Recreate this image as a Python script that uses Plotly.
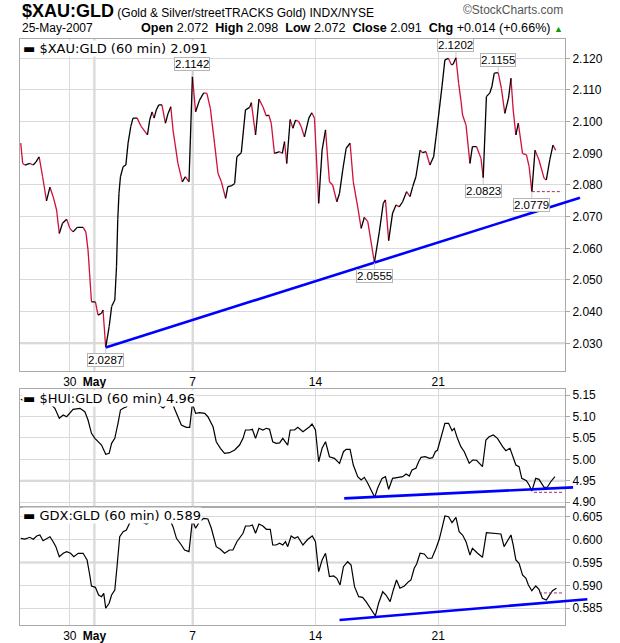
import plotly.graph_objects as go

# ---------------- data (x = trading-day position, Apr 26 open = 0) ----------------
XAU_X = [0.00,0.08,0.17,0.37,0.51,0.62,0.75,0.89,1.05,1.19,1.32,1.46,1.57,1.70,1.87,2.00,2.13,2.30,2.54,2.65,
         2.74,2.88,3.04,3.15,3.29,3.35,3.46,3.60,3.70,3.83,3.90,3.95,4.00,4.06,4.17,4.28,4.37,4.48,4.57,4.74,
         4.91,5.16,5.25,5.35,5.43,5.52,5.62,5.75,5.89,6.00,6.11,6.20,6.40,6.58,6.70,6.85,6.99,7.12,7.28,7.45,
         7.58,7.72,7.89,8.03,8.17,8.34,8.43,8.57,8.71,8.80,8.98,9.07,9.15,9.32,9.39,9.56,9.70,9.86,10.00,10.10,
         10.20,10.33,10.54,10.65,10.74,10.83,10.97,11.08,11.19,11.32,11.42,11.55,11.73,11.85,11.96,12.13,12.27,
         12.41,12.57,12.70,12.87,12.98,13.11,13.25,13.41,13.54,13.72,13.86,13.99,14.13,14.40,14.60,14.76,14.85,
         14.98,15.14,15.28,15.41,15.55,15.71,15.85,15.96,16.09,16.26,16.36,16.50,16.66,16.81,16.91,17.04,17.15,
         17.27,17.41,17.54,17.61,17.72,17.83,17.92,17.99,18.13,18.29,18.39,18.56,18.74,18.83,18.96,19.10,19.18,
         19.28,19.44,19.57,19.71,19.86,19.96,20.05,20.16,20.26,20.43,20.59,20.70,20.81,20.94,21.10,21.31,21.40,
         21.54,21.67,21.78]
XAU_Y = [2.0932,2.0868,2.0863,2.0868,2.0863,2.0873,2.0889,2.0826,2.0750,2.0793,2.0763,2.0721,2.0647,2.0679,
         2.0692,2.0663,2.0652,2.0666,2.0666,2.0652,2.0595,2.0431,2.0431,2.0389,2.0395,2.0405,2.0287,2.0353,
         2.0416,2.0437,2.0542,2.0690,2.0774,2.0826,2.0858,2.0863,2.0932,2.0984,2.1011,2.1011,2.0984,2.0958,
         2.1005,2.1031,2.1011,2.1037,2.1053,2.1053,2.0995,2.1026,2.1047,2.0974,2.0868,2.0810,2.0826,2.0810,
         2.1142,2.1031,2.1068,2.1091,2.1089,2.1042,2.0932,2.0837,2.0810,2.0758,2.0795,2.0797,2.0805,2.0889,
         2.0902,2.0974,2.1037,2.1045,2.1060,2.0958,2.1071,2.1047,2.1018,2.1021,2.0995,2.0900,2.0905,2.0900,
         2.0937,2.0868,2.1007,2.0979,2.1005,2.1000,2.0984,2.0952,2.1011,2.1028,2.1011,2.0742,2.0910,2.0974,
         2.0810,2.0800,2.0747,2.0774,2.0847,2.0916,2.0932,2.0810,2.0731,2.0663,2.0698,2.0684,2.0555,2.0652,
         2.0742,2.0753,2.0624,2.0711,2.0737,2.0731,2.0747,2.0779,2.0763,2.0795,2.0826,2.0910,2.0902,2.0905,
         2.0863,2.0889,2.0952,2.1037,2.1110,2.1195,2.1200,2.1179,2.1182,2.1202,2.1121,2.1068,2.1021,2.0989,
         2.0868,2.0921,2.0921,2.0884,2.0823,2.1079,2.1091,2.1110,2.1153,2.1155,2.1105,2.1026,2.1074,2.1137,
         2.1037,2.0958,2.0995,2.0900,2.0895,2.0858,2.0779,2.0910,2.0879,2.0821,2.0816,2.0879,2.0926,2.0910]

HUI_X = [0.00,0.21,0.46,0.70,0.94,1.11,1.26,1.39,1.57,1.73,1.87,2.00,2.13,2.41,2.61,2.74,2.88,3.02,3.15,3.29,
         3.46,3.60,3.70,3.83,3.96,4.06,4.17,4.31,4.44,4.85,5.18,5.52,5.80,5.93,6.13,6.20,6.34,6.54,6.74,6.88,
         6.99,7.12,7.28,7.49,7.62,7.83,7.96,8.13,8.30,8.50,8.71,8.91,9.05,9.15,9.32,9.43,9.56,9.70,9.86,10.00,
         10.13,10.26,10.40,10.54,10.67,10.78,10.87,10.97,11.15,11.28,11.49,11.76,11.86,12.00,12.13,12.27,12.41,
         12.57,12.77,12.98,13.14,13.25,13.41,13.54,13.72,13.86,13.99,14.13,14.31,14.41,14.53,14.71,14.85,14.98,
         15.14,15.34,15.55,15.69,15.82,15.93,16.09,16.20,16.30,16.47,16.64,16.77,16.88,16.97,17.11,17.27,17.42,
         17.56,17.65,17.78,17.92,18.06,18.26,18.40,18.56,18.67,18.80,18.94,19.07,19.24,19.41,19.62,19.75,19.92,
         20.05,20.16,20.29,20.40,20.59,20.70,20.81,20.97,21.10,21.31,21.44,21.58,21.75]
HUI_Y = [5.140,5.135,5.138,5.141,5.132,5.134,5.1267,5.119,5.0957,5.1034,5.0994,5.1073,5.1167,5.119,5.111,
         5.0917,5.0607,5.049,5.0411,5.0334,5.0118,5.0141,5.0374,5.049,5.084,5.115,5.119,5.1227,5.1344,5.138,
         5.127,5.131,5.120,5.127,5.131,5.1267,5.1073,5.080,5.0747,5.0747,5.1306,5.1073,5.1087,5.1073,5.0994,
         5.076,5.0411,5.0258,5.0141,5.0155,5.0218,5.0334,5.049,5.0684,5.0684,5.070,5.049,5.0724,5.0684,5.0724,
         5.070,5.0411,5.0374,5.0385,5.049,5.0411,5.0334,5.0684,5.0684,5.0747,5.0645,5.076,5.0824,5.0684,4.9945,
         5.0258,5.0411,5.0062,5.0024,4.9908,5.0179,5.0234,5.0234,4.9868,4.9596,4.9519,4.9582,4.9442,4.9246,
         4.9115,4.9325,4.9558,4.9596,4.9302,4.9558,4.9582,4.9596,4.9659,4.9612,4.9752,4.9792,4.9945,5.0048,
         5.0062,5.0024,5.0040,5.0179,5.0218,5.049,5.084,5.084,5.0668,5.0724,5.049,5.0296,5.0179,4.9908,4.9985,
         4.998,4.9908,4.9829,5.0451,5.0528,5.0568,5.049,5.0296,5.0202,5.0258,5.0024,4.9868,4.9829,4.9558,4.9502,
         4.9402,4.9262,4.9558,4.9535,4.9349,4.9350,4.9479,4.9596]

GDX_X = [0.00,0.17,0.37,0.51,0.65,0.78,0.91,1.05,1.19,1.32,1.43,1.57,1.73,1.87,2.03,2.16,2.34,2.54,2.70,2.81,
         2.88,3.04,3.17,3.29,3.38,3.46,3.60,3.70,3.83,3.92,4.03,4.17,4.30,4.45,4.75,5.12,5.45,5.80,6.05,6.20,
         6.34,6.54,6.67,6.85,6.99,7.12,7.28,7.45,7.62,7.76,7.96,8.13,8.30,8.50,8.64,8.80,8.91,9.05,9.15,9.32,
         9.43,9.56,9.70,9.86,10.00,10.16,10.26,10.40,10.54,10.67,10.78,10.87,11.01,11.15,11.28,11.49,11.69,11.87,
         12.00,12.13,12.27,12.41,12.57,12.74,12.87,13.00,13.14,13.31,13.45,13.59,13.76,13.92,14.06,14.26,14.44,
         14.57,14.74,14.87,15.04,15.17,15.30,15.44,15.62,15.79,15.89,16.02,16.12,16.26,16.43,16.57,16.74,16.91,
         17.04,17.15,17.27,17.42,17.56,17.72,17.85,17.99,18.13,18.29,18.39,18.60,18.80,18.96,19.14,19.35,19.55,
         19.68,19.82,19.96,20.05,20.16,20.29,20.43,20.57,20.67,20.81,20.97,21.10,21.24,21.40,21.54,21.65,21.81]
GDX_Y = [0.60028,0.60009,0.6005,0.60009,0.60079,0.601,0.59976,0.60028,0.60063,0.59954,0.59845,0.59627,0.59701,
         0.59736,0.59701,0.59627,0.59701,0.59701,0.59555,0.59227,0.58987,0.58958,0.5879,0.58753,0.58826,0.585,
         0.58609,0.5879,0.5890,0.59408,0.60063,0.60172,0.6021,0.6038,0.6043,0.6034,0.6045,0.6041,0.6046,0.60282,
         0.60028,0.59882,0.59773,0.59736,0.60428,0.60247,0.60391,0.60465,0.6045,0.60247,0.59845,0.59788,0.59701,
         0.59773,0.59773,0.59954,0.60028,0.60138,0.60297,0.60297,0.60319,0.60138,0.60341,0.60297,0.60225,0.60225,
         0.59882,0.59882,0.59919,0.59882,0.59954,0.59845,0.60079,0.60028,0.60063,0.59882,0.60006,0.60079,0.59954,
         0.59299,0.59555,0.59701,0.5919,0.59205,0.59155,0.59009,0.59408,0.59517,0.59445,0.58972,0.58753,0.5874,
         0.58644,0.58478,0.58332,0.58609,0.58862,0.5879,0.58644,0.5890,0.59118,0.58937,0.58987,0.59081,0.59118,
         0.59373,0.59467,0.59701,0.59686,0.59592,0.59592,0.5981,0.60006,0.60247,0.60515,0.605,0.60369,0.60487,
         0.60172,0.601,0.59954,0.59664,0.5981,0.59701,0.59613,0.6015,0.60143,0.60136,0.60122,0.59845,0.59976,
         0.601,0.59882,0.59555,0.59482,0.59227,0.59155,0.59009,0.58884,0.58987,0.58915,0.58718,0.58681,0.5879,
         0.58884,0.58937]

X_RANGE = [-0.03, 22.16]
X_TICKS = [2, 3, 7, 12, 17]
X_LABELS = ["30", "<b>May</b>", "7", "14", "21"]
X_STRONG = [3, 7]            # gridlines drawn a little heavier

XAU_TICKS = [2.03, 2.04, 2.05, 2.06, 2.07, 2.08, 2.09, 2.10, 2.11, 2.12]
HUI_TICKS = [4.90, 4.95, 5.00, 5.05, 5.10, 5.15]
GDX_TICKS = [0.585, 0.590, 0.595, 0.600, 0.605]
XAU_RANGE = [2.02135, 2.1261]
HUI_RANGE = [4.8897, 5.1633]
GDX_RANGE = [0.58135, 0.60718]
Y_STRONG = [2.03, 4.95, 0.595]   # heavier horizontal gridline per panel

# labelled turning points on the price panel
MARK_X = [3.46, 6.99, 14.40, 17.72, 18.83, 19.44, 20.81]
MARK_Y = [2.0287, 2.1142, 2.0555, 2.1202, 2.0823, 2.1155, 2.0779]
MARK_ABOVE = [False, True, False, True, False, True, False]

# hand-drawn trend lines (start / end in data units) and support levels
XAU_TREND = [(3.46, 2.0287), (22.77, 2.0760)]
HUI_TREND = [(13.17, 4.9092), (22.49, 4.9348)]
GDX_TREND = [(12.98, 0.58244), (23.07, 0.58697)]
XAU_LEVEL = [(20.81, 22.04), 2.0779]
HUI_LEVEL = [(20.90, 22.04), 4.9232]
GDX_LEVEL = [(21.10, 22.04), 0.58835]

# ---------------- figure ----------------
RED = "#d0103a"
GRID = "#dadada"
GRID_STRONG = "#cdcdcd"
FRAME = "#a9a9a9"
AX_FONT = dict(family="Liberation Sans, Arial", size=12, color="black")


def split_up_down(xs, ys):
    ux, uy, dx, dy = [], [], [], []
    for i in range(len(xs) - 1):
        if ys[i + 1] < ys[i]:
            dx += [xs[i], xs[i + 1], None]
            dy += [ys[i], ys[i + 1], None]
        else:
            ux += [xs[i], xs[i + 1], None]
            uy += [ys[i], ys[i + 1], None]
    return ux, uy, dx, dy


ux, uy, dx, dy = split_up_down(XAU_X, XAU_Y)
fig = go.Figure()
fig.add_trace(go.Scatter(x=dx, y=dy, mode="lines", line=dict(color=RED, width=1.3),
                         xaxis="x", yaxis="y", hoverinfo="skip"))
fig.add_trace(go.Scatter(x=ux, y=uy, mode="lines", line=dict(color="black", width=1.3),
                         xaxis="x", yaxis="y", hoverinfo="skip"))
fig.add_trace(go.Scatter(x=HUI_X, y=HUI_Y, mode="lines", line=dict(color="black", width=1.2),
                         xaxis="x2", yaxis="y2"))
fig.add_trace(go.Scatter(x=GDX_X, y=GDX_Y, mode="lines", line=dict(color="black", width=1.2),
                         xaxis="x3", yaxis="y3"))


def xaxis(anchor, labels):
    return dict(anchor=anchor, domain=[0, 1], range=X_RANGE, tickvals=X_TICKS, ticktext=X_LABELS,
                showticklabels=labels, ticks="", showgrid=True, gridcolor=GRID, gridwidth=1,
                showline=True, mirror=True, linecolor=FRAME, linewidth=1, zeroline=False,
                tickfont=AX_FONT, fixedrange=True, automargin=False)


def yaxis(anchor, dom, rng, ticks, fmt):
    return dict(anchor=anchor, domain=dom, range=rng, tickvals=ticks,
                ticktext=[fmt.format(t) for t in ticks], side="right", ticks="outside",
                ticklen=4, tickcolor=FRAME, showgrid=True, gridcolor=GRID, gridwidth=1,
                showline=True, mirror=True, linecolor=FRAME, linewidth=1, zeroline=False,
                tickfont=AX_FONT, fixedrange=True, automargin=False)


def dom(d):
    return (d - X_RANGE[0]) / (X_RANGE[1] - X_RANGE[0])


shapes = []
PANELS = (("x", "y"), ("x2", "y2"), ("x3", "y3"))
for xr, yr in PANELS:
    for xv in X_STRONG:
        shapes.append(dict(type="line", layer="below", xref=xr, yref=yr + " domain", x0=xv, x1=xv,
                           y0=0, y1=1, line=dict(color=GRID_STRONG, width=2)))
for (xr, yr), yv in zip(PANELS, Y_STRONG):
    shapes.append(dict(type="line", layer="below", xref=xr + " domain", yref=yr, x0=0, x1=1,
                       y0=yv, y1=yv, line=dict(color=GRID_STRONG, width=2)))

for trend, (xr, yr) in zip((XAU_TREND, HUI_TREND, GDX_TREND), PANELS):
    shapes.append(dict(type="line", xref=xr + " domain", yref=yr,
                       x0=dom(trend[0][0]), y0=trend[0][1], x1=dom(trend[1][0]), y1=trend[1][1],
                       line=dict(color="#0000ff", width=2.6)))
for lvl, (xr, yr) in zip((XAU_LEVEL, HUI_LEVEL, GDX_LEVEL), PANELS):
    shapes.append(dict(type="line", xref=xr, yref=yr, x0=lvl[0][0], x1=lvl[0][1], y0=lvl[1], y1=lvl[1],
                       line=dict(color="#993366", width=1, dash="3px,2px")))

annotations = []
for mx, my, above in zip(MARK_X, MARK_Y, MARK_ABOVE):
    annotations.append(dict(x=mx, y=my, xref="x", yref="y", text=f"{my:.4f}", showarrow=True,
                            arrowhead=0, arrowwidth=1, arrowcolor="#c8c8c8", ax=0,
                            ay=-13 if above else 13, standoff=0,
                            bgcolor="white", bordercolor="#b5b5b5", borderwidth=1, borderpad=0,
                            font=dict(family="Liberation Sans, Arial", size=11.5, color="black")))

LEG_FONT = dict(family="DejaVu Sans", size=13, color="black")
for txt, (xr, yr) in zip(("\u25ac $XAU:GLD (60 min) 2.091",
                          "\u25ac $HUI:GLD (60 min) 4.96",
                          "\u25ac GDX:GLD (60 min) 0.589"), PANELS):
    annotations.append(dict(x=0.003, y=0.997, xref=xr + " domain", yref=yr + " domain",
                            xanchor="left", yanchor="top", text=txt, showarrow=False,
                            bgcolor="white", borderpad=0, font=LEG_FONT))

HDR = "Liberation Sans, Arial"
annotations += [
    dict(x=0, y=1.047, xref="paper", yref="paper", xanchor="left", yanchor="middle", showarrow=False,
         text="<b><span style='font-size:18px'>$XAU:GLD</span></b> (Gold &amp; Silver/streetTRACKS Gold) INDX/NYSE",
         font=dict(family=HDR, size=12, color="black")),
    dict(x=1.0, y=1.049, xref="paper", yref="paper", xanchor="right", yanchor="middle", showarrow=False,
         text="\u00a9StockCharts.com", font=dict(family=HDR, size=12, color="#555555")),
    dict(x=0, y=1.019, xref="paper", yref="paper", xanchor="left", yanchor="middle", showarrow=False,
         text="25-May-2007", font=dict(family=HDR, size=12, color="black")),
    dict(x=1.0, y=1.019, xref="paper", yref="paper", xanchor="right", yanchor="middle", showarrow=False,
         text="<b>Open</b> 2.072 &nbsp;<b>High</b> 2.098 &nbsp;<b>Low</b> 2.072 &nbsp;<b>Close</b> 2.091 "
              "&nbsp;<b>Chg</b> +0.014 (+0.66%) <span style='color:#119911;font-size:9px'>\u25b2</span>",
         font=dict(family=HDR, size=12.6, color="black")),
]

fig.update_layout(
    width=620, height=643, margin=dict(l=20, r=55, t=39, b=18, autoexpand=False),
    paper_bgcolor="white", plot_bgcolor="white", showlegend=False,
    xaxis=xaxis("y", True),
    xaxis2=dict(xaxis("y2", False), matches="x"),
    xaxis3=dict(xaxis("y3", True), matches="x"),
    yaxis=yaxis("x", [0.43396, 1.0], XAU_RANGE, XAU_TICKS, "{:.3f}"),
    yaxis2=yaxis("x2", [0.20188, 0.40222], HUI_RANGE, HUI_TICKS, "{:.2f}"),
    yaxis3=yaxis("x3", [0.0, 0.20188], GDX_RANGE, GDX_TICKS, "{:.3f}"),
    shapes=shapes, annotations=annotations,
)

fig.write_html("out.html", config={"displayModeBar": False},
               post_script="document.body.style.margin='0px';document.body.style.overflow='hidden';")
